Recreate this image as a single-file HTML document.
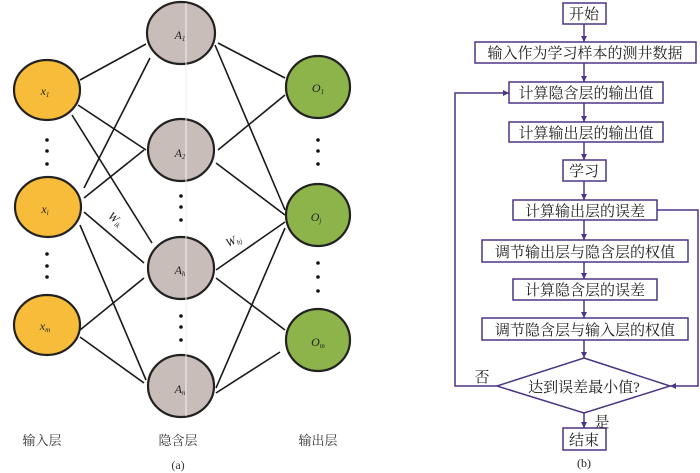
<!DOCTYPE html>
<html><head><meta charset="utf-8"><style>
html,body{margin:0;padding:0;background:#fff;}
svg{display:block;}
.cn{font-family:"Liberation Serif","Noto Serif CJK SC","Noto Sans CJK SC",serif;}
</style></head><body>
<svg width="700" height="473" viewBox="0 0 700 473" xmlns="http://www.w3.org/2000/svg">
<defs>
<marker id="ar" markerWidth="8" markerHeight="8" refX="6" refY="3" orient="auto" markerUnits="userSpaceOnUse">
<path d="M0,0 L6,3 L0,6 z" fill="#4b3585"/></marker>
</defs>
<g stroke="#1a1a1a" stroke-width="1.6">
<line x1="80" y1="80" x2="146" y2="44"/>
<line x1="78" y1="105" x2="146" y2="150"/>
<line x1="72" y1="115" x2="152" y2="243"/>
<line x1="84" y1="188" x2="150" y2="58"/>
<line x1="84" y1="198" x2="144" y2="150"/>
<line x1="84" y1="212" x2="144" y2="263"/>
<line x1="80" y1="225" x2="146" y2="380"/>
<line x1="80" y1="330" x2="144" y2="278"/>
<line x1="80" y1="337" x2="144" y2="383"/>
<line x1="218" y1="43" x2="285" y2="78"/>
<line x1="215" y1="45" x2="285" y2="210"/>
<line x1="218" y1="150" x2="285" y2="95"/>
<line x1="216" y1="163" x2="285" y2="215"/>
<line x1="216" y1="270" x2="285" y2="222"/>
<line x1="216" y1="278" x2="285" y2="330"/>
<line x1="216" y1="388" x2="285" y2="228"/>
<line x1="216" y1="393" x2="280" y2="352"/>
</g>
<g stroke="#222" stroke-width="2.2">
<ellipse cx="47" cy="90" rx="33" ry="30" fill="#f7bd3a"/>
<ellipse cx="48" cy="207" rx="33" ry="30" fill="#f7bd3a"/>
<ellipse cx="47" cy="325" rx="33" ry="30" fill="#f7bd3a"/>
<ellipse cx="181" cy="33" rx="34" ry="31" fill="#c9bdb9"/>
<ellipse cx="181" cy="150" rx="33" ry="31" fill="#c9bdb9"/>
<ellipse cx="181" cy="268" rx="33" ry="31" fill="#c9bdb9"/>
<ellipse cx="181" cy="386" rx="33" ry="31" fill="#c9bdb9"/>
<ellipse cx="318" cy="87" rx="32" ry="31" fill="#8db44a"/>
<ellipse cx="318" cy="215" rx="32" ry="31" fill="#8db44a"/>
<ellipse cx="318" cy="340" rx="32" ry="31" fill="#8db44a"/>
</g>
<g stroke="#eee" stroke-width="1"><line x1="186" y1="3" x2="186" y2="416"/></g>
<g fill="#111">
<circle cx="47" cy="140" r="1.8"/><circle cx="47" cy="151" r="1.8"/><circle cx="47" cy="164" r="1.8"/>
<circle cx="47" cy="254" r="1.8"/><circle cx="47" cy="266" r="1.8"/><circle cx="47" cy="277" r="1.8"/>
<circle cx="181" cy="196" r="1.8"/><circle cx="181" cy="207" r="1.8"/><circle cx="181" cy="220" r="1.8"/>
<circle cx="181" cy="316" r="1.8"/><circle cx="181" cy="327" r="1.8"/><circle cx="181" cy="340" r="1.8"/>
<circle cx="318" cy="140" r="1.8"/><circle cx="318" cy="151" r="1.8"/><circle cx="318" cy="164" r="1.8"/>
<circle cx="318" cy="263" r="1.8"/><circle cx="318" cy="277" r="1.8"/><circle cx="318" cy="291" r="1.8"/>
</g>
<g font-family="Liberation Serif,serif" font-style="italic" font-size="12" fill="#222" text-anchor="middle">
<text x="45" y="95">x<tspan font-size="7" dy="2">1</tspan></text>
<text x="45" y="213">x<tspan font-size="7" dy="2">i</tspan></text>
<text x="45" y="330">x<tspan font-size="7" dy="2">m</tspan></text>
<text x="180" y="39">A<tspan font-size="7" dy="2">1</tspan></text>
<text x="180" y="157">A<tspan font-size="7" dy="2">2</tspan></text>
<text x="180" y="274">A<tspan font-size="7" dy="2">h</tspan></text>
<text x="180" y="393">A<tspan font-size="7" dy="2">n</tspan></text>
<text x="318" y="92">O<tspan font-size="7" dy="2">1</tspan></text>
<text x="316" y="221">O<tspan font-size="7" dy="2">j</tspan></text>
<text x="318" y="346">O<tspan font-size="7" dy="2">m</tspan></text>
<text x="113" y="222" transform="rotate(40 113 222)">W<tspan font-size="7" dy="2">ik</tspan></text>
<text x="235" y="244" transform="rotate(-25 235 244)">W<tspan font-size="7" dy="2">hj</tspan></text>
</g>
<g class="cn" font-size="13" fill="#333" text-anchor="middle">
<text x="42" y="445">输入层</text>
<text x="178" y="445">隐含层</text>
<text x="318" y="445">输出层</text>
<text x="178" y="469" font-size="12">(a)</text>
</g>
<g stroke="#4b3585" stroke-width="1.5" fill="#fff">
<rect x="563" y="3" width="43" height="21"/>
<rect x="475" y="42" width="221" height="21"/>
<rect x="509" y="82" width="154" height="21"/>
<rect x="509" y="122" width="154" height="20"/>
<rect x="563" y="160" width="43" height="21"/>
<rect x="513" y="200" width="144" height="20"/>
<rect x="482" y="240" width="206" height="22"/>
<rect x="513" y="279" width="144" height="21"/>
<rect x="482" y="318" width="206" height="22"/>
<polygon points="584,358 670,386 584,413 497,386"/>
<rect x="563" y="428" width="43" height="22"/>
</g>
<g stroke="#4b3585" stroke-width="1.5" fill="none" marker-end="url(#ar)">
<line x1="584" y1="24" x2="584" y2="42"/>
<line x1="584" y1="63" x2="584" y2="82"/>
<line x1="584" y1="103" x2="584" y2="122"/>
<line x1="584" y1="142" x2="584" y2="160"/>
<line x1="584" y1="181" x2="584" y2="200"/>
<line x1="584" y1="220" x2="584" y2="240"/>
<line x1="584" y1="262" x2="584" y2="279"/>
<line x1="584" y1="300" x2="584" y2="318"/>
<line x1="584" y1="340" x2="584" y2="358"/>
<line x1="584" y1="413" x2="584" y2="428"/>
<polyline points="497,386 455,386 455,93 509,93"/>
<polyline points="657,210 698,210 698,386 670,386"/>
</g>
<g class="cn" font-size="15" fill="#222" text-anchor="middle">
<text x="584" y="19">开始</text>
<text x="585" y="58">输入作为学习样本的测井数据</text>
<text x="586" y="98">计算隐含层的输出值</text>
<text x="586" y="138">计算输出层的输出值</text>
<text x="584" y="176">学习</text>
<text x="585" y="216">计算输出层的误差</text>
<text x="585" y="257">调节输出层与隐含层的权值</text>
<text x="585" y="295">计算隐含层的误差</text>
<text x="585" y="335">调节隐含层与输入层的权值</text>
<text x="584" y="392">达到误差最小值?</text>
<text x="584" y="445">结束</text>
<text x="482" y="382">否</text>
<text x="602" y="427">是</text>
<text x="584" y="467" font-size="12">(b)</text>
</g>
</svg>
</body></html>
